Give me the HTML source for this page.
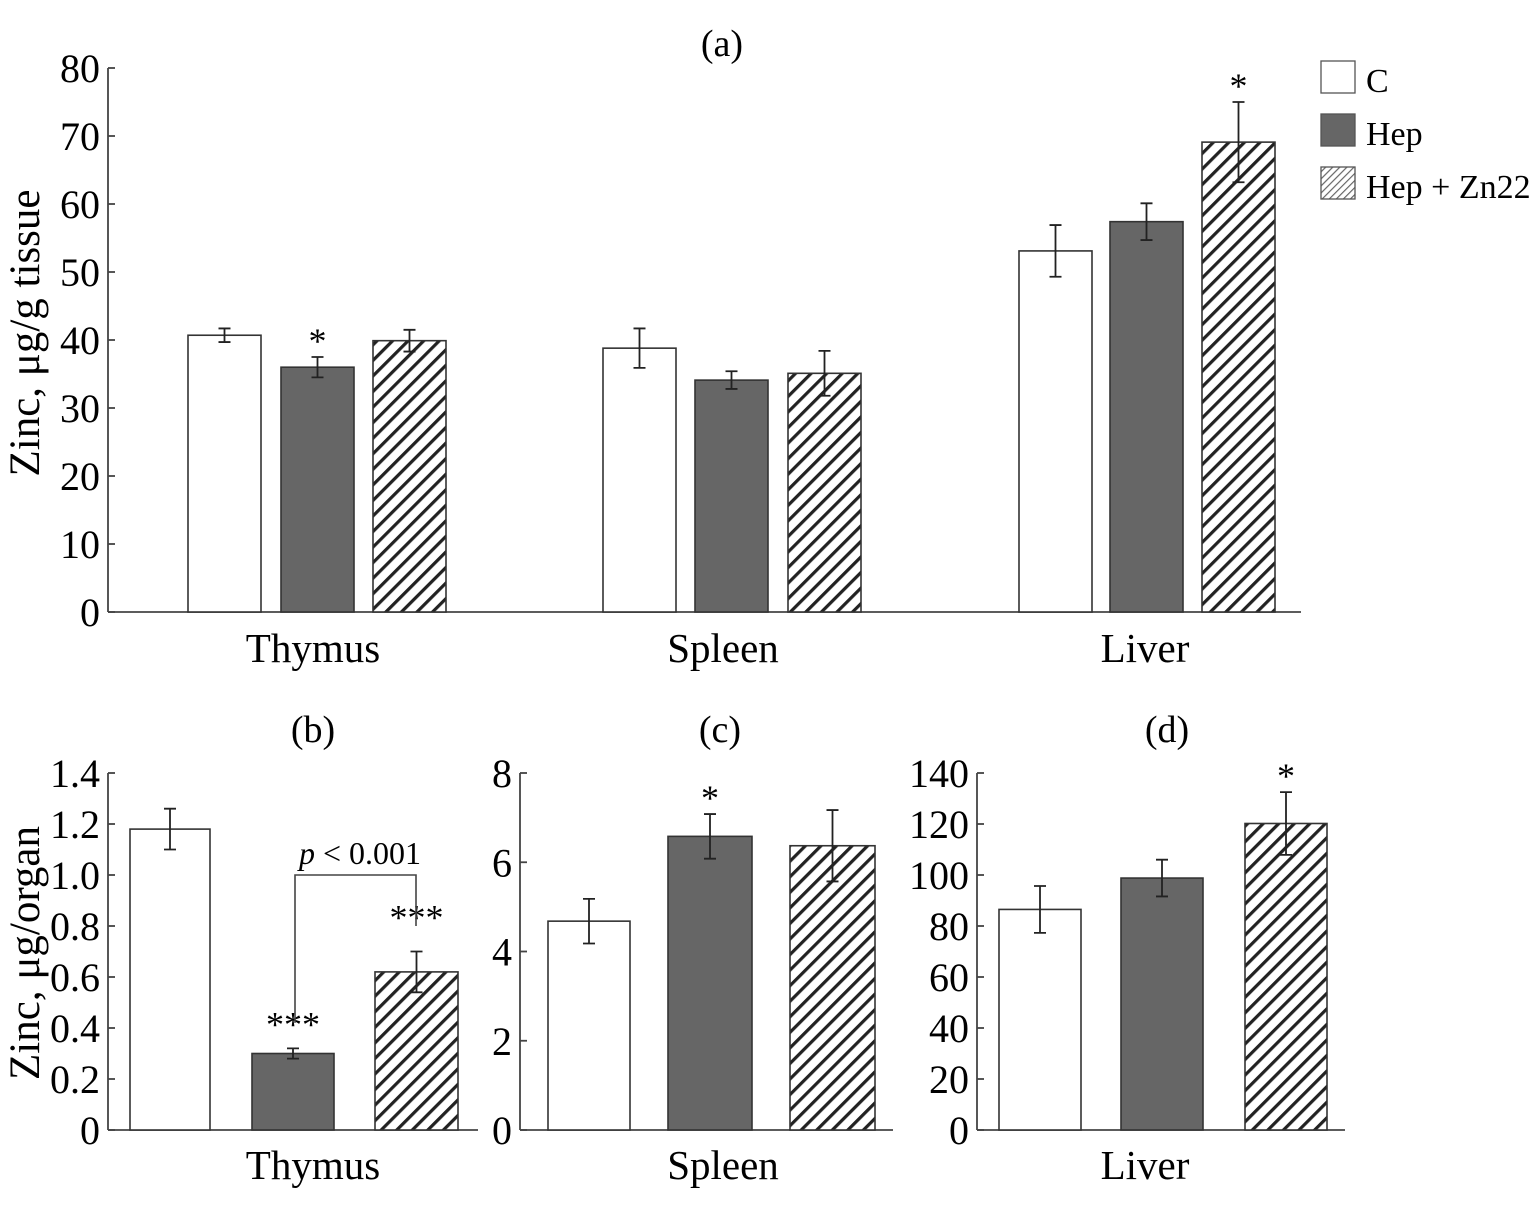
<!DOCTYPE html>
<html><head><meta charset="utf-8"><style>
html,body{margin:0;padding:0;background:#fff;}
svg{display:block;font-family:"Liberation Serif",serif;}
</style></head><body>
<svg id="chart" width="1535" height="1213" viewBox="0 0 1535 1213">
<defs>
<pattern id="hatch" patternUnits="userSpaceOnUse" width="11" height="11" patternTransform="rotate(45)">
<rect width="11" height="11" fill="#fff"/><rect x="0" y="0" width="3.2" height="11" fill="#222"/>
</pattern>
<pattern id="hatchLeg" patternUnits="userSpaceOnUse" width="5" height="5" patternTransform="rotate(45)">
<rect width="5" height="5" fill="#fff"/><rect x="0" y="0" width="1.2" height="5" fill="#666"/>
</pattern>
</defs>
<g id="root"></g>
</svg>
<script>
const seriesNames = ["C","Hep","Hep + Zn22"];
const organs = ["Thymus","Spleen","Liver"];
// panel (a) µg/g tissue
const aValues = [[40.7,36.0,39.9],[38.8,34.1,35.1],[53.1,57.4,69.1]];
const aErrors = [[1.0,1.5,1.6],[2.9,1.3,3.3],[3.8,2.7,5.9]];
const aStars = [["","*",""],["","",""],["","","*"]];
const aTicks = [0,10,20,30,40,50,60,70,80];
// panels (b),(c),(d) µg/organ
const bValues = [1.18,0.30,0.62];
const bErrors = [0.08,0.02,0.08];
const bStars = ["","***","***"];
const bTicks = ["0","0.2","0.4","0.6","0.8","1.0","1.2","1.4"];
const cValues = [4.68,6.58,6.37];
const cErrors = [0.5,0.5,0.8];
const cStars = ["","*",""];
const cTicks = ["0","2","4","6","8"];
const dValues = [86.5,98.8,120.2];
const dErrors = [9.2,7.2,12.3];
const dStars = ["","","*"];
const dTicks = ["0","20","40","60","80","100","120","140"];

const NS="http://www.w3.org/2000/svg";
const root=document.getElementById('root');
function el(tag,attrs,parent,text){const e=document.createElementNS(NS,tag);for(const k in attrs)e.setAttribute(k,attrs[k]);if(text!==undefined)e.textContent=text;(parent||root).appendChild(e);return e;}
const fills=["#fff","#666","url(#hatch)"];

function panel(opt){
  const g=el('g',{});
  
  
  const maxV=parseFloat(opt.ticks[opt.ticks.length-1]);
  const y=v=>opt.y0-(v/maxV)*(opt.y0-opt.y1);
  const ax=el('line',{x1:opt.ax,y1:opt.y1,x2:opt.ax,y2:opt.y0,stroke:'#444','stroke-width':1.8},g);
  
  const bx=el('line',{x1:opt.ax,y1:opt.y0,x2:opt.axEnd,y2:opt.y0,stroke:'#444','stroke-width':1.8},g);
  
  opt.ticks.forEach(t=>{
    const ty=y(parseFloat(t));
    el('line',{x1:opt.ax,y1:ty,x2:opt.ax+7,y2:ty,stroke:'#444','stroke-width':1.8},g);
    const tl=el('text',{x:opt.ax-8,y:ty+14,'text-anchor':'end','font-size':40},g,t);
    
  });
  opt.bars.forEach(b=>{
    const top=y(b.v);
    const r=el('rect',{x:b.x,y:top,width:b.w,height:opt.y0-top,fill:fills[b.s],stroke:'#333','stroke-width':1.6},g);
    
    const cx=b.x+b.w/2, e1=y(b.v+b.e), e2=y(b.v-b.e);
    const eb=el('path',{d:`M${cx-6} ${e1}H${cx+6}M${cx} ${e1}V${e2}M${cx-6} ${e2}H${cx+6}`,stroke:'#222','stroke-width':1.8,fill:'none'},g);
    
    if(b.star){const st=el('text',{x:cx,y:e1-4+(b.starOff||0),'text-anchor':'middle','font-size':36},g,b.star);
      }
  });
  return {g,y};
}

const aBarX=[[188,281,373],[603,695,788],[1019,1110,1202]];
const aBars=[];
organs.forEach((o,i)=>seriesNames.forEach((s,j)=>aBars.push({x:aBarX[i][j],w:73,v:aValues[i][j],e:aErrors[i][j],s:j,star:aStars[i][j],label:o.toLowerCase()+'-'+j})));
const pa=panel({name:'panel-a',ax:108,axEnd:1301,y0:612,y1:68,ticks:aTicks.map(String),bars:aBars});
[[313,'Thymus'],[723,'Spleen'],[1145,'Liver']].forEach(([x,t])=>{const e=el('text',{x:x,y:662,'text-anchor':'middle','font-size':41},pa.g,t);});
let t=el('text',{x:722,y:56,'text-anchor':'middle','font-size':38},root,'(a)');
t=el('text',{x:0,y:0,'text-anchor':'middle','font-size':43,transform:'translate(39,333) rotate(-90)'},root,'Zinc, μg/g tissue');

const legFills=["#fff","#666","url(#hatchLeg)"];
seriesNames.forEach((s,i)=>{
  const ly=61+i*53;
  const lg=el('g',{});
  
  
  el('rect',{x:1321,y:ly,width:34,height:32,fill:legFills[i],stroke:'#555','stroke-width':1.3},lg);
  el('text',{x:1366,y:ly+31,'font-size':34},lg,s);
});

const pb=panel({name:'panel-b',ax:108,axEnd:478,y0:1130,y1:773,ticks:bTicks,
  bars:bValues.map((v,j)=>({x:[130,252,375][j],w:[80,82,83][j],v:v,e:bErrors[j],s:j,star:bStars[j],label:'thymus-'+j,starOff:j===1?-8:-18}))});
const br=el('path',{d:`M295 ${pb.y(0.42)}V${pb.y(1.0)}H416V${pb.y(0.8)}`,stroke:'#444','stroke-width':1.6,fill:'none'},root);

t=el('text',{x:360,y:864,'text-anchor':'middle','font-size':32},root);
el('tspan',{'font-style':'italic'},t,'p');el('tspan',{},t,' < 0.001');

panel({name:'panel-c',ax:520,axEnd:893,y0:1130,y1:773,ticks:cTicks,
  bars:cValues.map((v,j)=>({x:[548,668,790][j],w:[82,84,85][j],v:v,e:cErrors[j],s:j,star:cStars[j],label:'spleen-'+j})) });
panel({name:'panel-d',ax:977,axEnd:1345,y0:1130,y1:773,ticks:dTicks,
  bars:dValues.map((v,j)=>({x:[999,1121,1245][j],w:82,v:v,e:dErrors[j],s:j,star:dStars[j],label:'liver-'+j})) });

[[313,'(b)'],[720,'(c)'],[1167,'(d)']].forEach(([x,s])=>{const e=el('text',{x:x,y:742,'text-anchor':'middle','font-size':38},root,s);});
[[313,'Thymus'],[723,'Spleen'],[1145,'Liver']].forEach(([x,s])=>{const e=el('text',{x:x,y:1179,'text-anchor':'middle','font-size':41},root,s);});
t=el('text',{x:0,y:0,'text-anchor':'middle','font-size':43,transform:'translate(39,953) rotate(-90)'},root,'Zinc, μg/organ');
</script>
</body></html>
